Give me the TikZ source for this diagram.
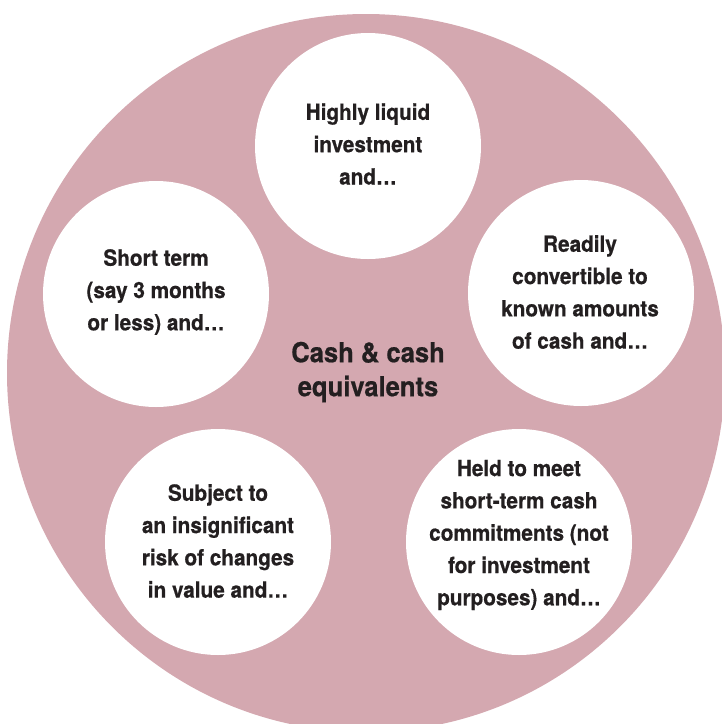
\documentclass[tikz,border=0pt]{standalone}
\usepackage{fontspec}
\setmainfont{TeX Gyre Heros}[FakeStretch=0.93,FakeBold=0.6]
\definecolor{rose}{RGB}{212,168,176}
\definecolor{ink}{RGB}{35,31,32}
\begin{document}
\begin{tikzpicture}[x=1pt,y=-1pt,
  disc/.style={circle, fill=white, minimum size=226pt, inner sep=0pt},
  lbl/.style={align=center, text=ink, inner sep=0pt, font=\fontsize{22.3}{32.3}\selectfont\bfseries},
  ttl/.style={align=center, text=ink, inner sep=0pt, font=\fontsize{27.5}{34}\selectfont\bfseries}]
\useasboundingbox (0,0) rectangle (722,724);
\clip (0,0) rectangle (722,724);
\fill[rose] (366,373) circle[radius=359];
\node[disc] (ctop) at (368,146) {};
\node[disc] (cleft) at (156,294) {};
\node[disc] (cright) at (581,293) {};
\node[disc] (cbl) at (218,542) {};
\node[disc] (cbr) at (519,542) {};
\node[lbl] (ttop) at (368,144) {Highly liquid\\investment\\and…};
\node[lbl] (tleft) at (156,292) {Short term\\(say 3 months\\or less) and…};
\node[lbl] (tright) at (580,292) {Readily\\convertible to\\known amounts\\of cash and…};
\node[lbl] (tbl) at (218,541) {Subject to\\an insignificant\\risk of changes\\in value and…};
\node[lbl] (tbr) at (519,535) {Held to meet\\short-term cash\\commitments (not\\for investment\\purposes) and…};
\node[ttl] (title) at (368,372) {Cash \& cash\\equivalents};
\end{tikzpicture}
\end{document}
